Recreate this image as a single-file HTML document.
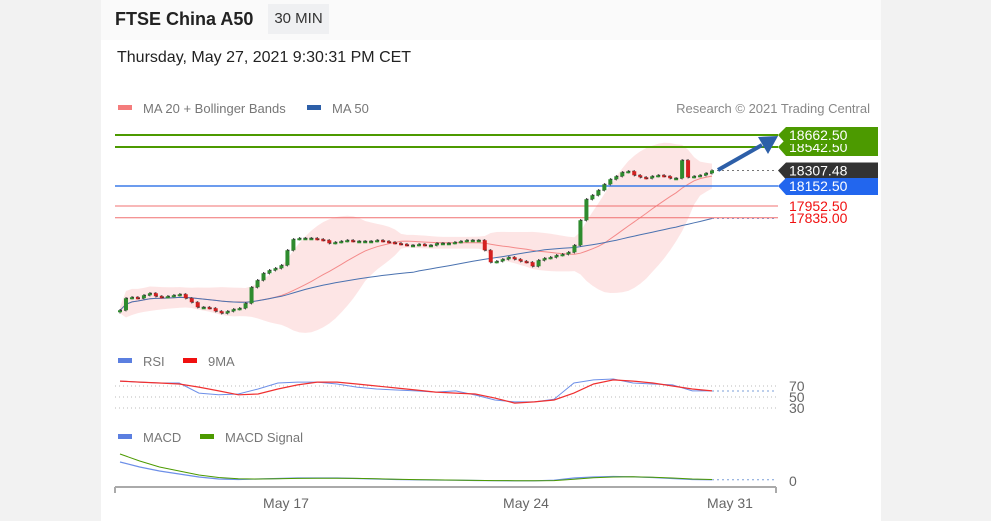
<!DOCTYPE html>
<html><head><meta charset="utf-8"><style>
body{margin:0;width:991px;height:521px;background:#f2f2f2;font-family:"Liberation Sans",sans-serif;overflow:hidden}
#card{position:absolute;left:101px;top:0;width:780px;height:521px;background:#fff}
#hdr{position:absolute;left:0;top:0;width:780px;height:40px;background:#fafafa}
</style></head><body>
<div id="card">
<div id="hdr"></div>
<div style="position:absolute;left:14px;top:9px;font-size:18px;font-weight:bold;color:#222">FTSE China A50</div>
<div style="position:absolute;left:167px;top:4px;width:61px;height:30px;background:#eff0f2;font-size:15px;color:#333;line-height:30px;text-align:center">30 MIN</div>
<div style="position:absolute;left:16px;top:49px;font-size:16px;color:#222">Thursday, May 27, 2021 9:30:31 PM CET</div>
</div>
<svg id="s" width="991" height="521" style="position:absolute;left:0;top:0" font-family="Liberation Sans, sans-serif"></svg>
<script>
const closes=[16910,17030,17040,17030,17060,17080,17050,17040,17050,17060,17070,17030,16990,16940,16940,16930,16900,16880,16900,16920,16930,16980,17140,17210,17280,17310,17330,17360,17510,17620,17630,17630,17630,17620,17610,17580,17590,17600,17610,17600,17600,17600,17600,17610,17600,17590,17580,17570,17560,17560,17570,17560,17560,17580,17580,17580,17590,17600,17610,17610,17610,17510,17390,17400,17420,17440,17420,17400,17390,17350,17410,17430,17440,17460,17470,17490,17560,17810,18020,18060,18110,18170,18220,18250,18290,18300,18260,18240,18230,18250,18260,18250,18230,18230,18410,18240,18250,18260,18280,18307.48];
const levels=[18662.5,18542.5,18152.5,17952.5,17835.0];
const lastPrice=18307.48;
const rsi=[79,77,75.5,75.5,57,54,55.5,64.5,75.5,77,77,73.6,68,64.5,62.7,61,59,61,53.6,44.5,41,41,46,75.5,81,82.7,75.5,73.6,72,61,61];
const rsiMA=[79,77,75.5,73.6,68,61,54,55.5,64.5,72,77,77,73.6,70,66.4,62.7,59,57,55.5,48,39,41,44.5,57,73.6,81,79,75.5,70,64.5,61];
const macd=[190,140,100,70,40,20,15,20,25,30,30,30,25,20,15,12,10,8,5,3,2,2,8,30,40,45,42,35,25,15,12];
const signal=[270,200,140,100,60,35,22,20,22,26,28,28,26,22,18,14,11,9,6,4,3,2,4,18,32,40,42,38,30,20,15];
const rsiTicks=[70,50,30];
const xLabels=["May 17","May 24","May 31"];
const xLabelPos=[286,526,730];

const S=document.getElementById('s'),NS='http://www.w3.org/2000/svg';
function el(t,a,p){const e=document.createElementNS(NS,t);for(const k in a)e.setAttribute(k,a[k]);(p||S).appendChild(e);return e;}
const X0=120,X1=712;
const xi=(i,n)=>X0+(X1-X0)*i/(n-1);
const py=p=>135+(18662.5-p)/10;
const ry=v=>386+(70-v)*0.55;
const my=v=>481-v/10;
function pts(arr,f){return arr.map((v,i)=>xi(i,arr.length).toFixed(1)+','+f(v).toFixed(1)).join(' ');}

const n=closes.length;const ma20=[],up=[],lo=[],ma50=[];
for(let i=0;i<n;i++){const a=closes.slice(Math.max(0,i-19),i+1);const m=a.reduce((s,v)=>s+v,0)/a.length;const sd=Math.sqrt(a.reduce((s,v)=>s+(v-m)*(v-m),0)/a.length);ma20.push(m);up.push(m+1.7*sd+30);lo.push(m-1.7*sd-30);
const b=closes.slice(Math.max(0,i-49),i+1);ma50.push(b.reduce((s,v)=>s+v,0)/b.length);}
let band=up.map((v,i)=>xi(i,n)+','+py(v)).join(' ')+' '+lo.map((v,i)=>[xi(i,n),py(v)]).reverse().map(p=>p[0]+','+p[1]).join(' ');
let e=el('polygon',{points:band,fill:'#fde0e0',opacity:0.85});


e=el('polyline',{points:pts(ma20,py),fill:'none',stroke:'#f48a8a','stroke-width':1});


e=el('polyline',{points:pts(ma50,py),fill:'none',stroke:'#4a72b0','stroke-width':1});


el('line',{x1:X1,x2:776,y1:py(ma50[n-1]),y2:py(ma50[n-1]),stroke:'#7b9fd8','stroke-dasharray':'2,3'});

const lvCol=['#4c9a00','#4c9a00','#3b7be8','#f07070','#f07070'];
const lvW=[2,2,1.5,1,1];
levels.forEach((v,i)=>{const l=el('line',{x1:115,x2:778,y1:py(v),y2:py(v),stroke:lvCol[i],'stroke-width':lvW[i]});

});
el('line',{x1:X1,x2:776,y1:py(lastPrice),y2:py(lastPrice),stroke:'#777','stroke-dasharray':'2,3'});

for(let i=0;i<n;i++){const c=closes[i],o=i?closes[i-1]:c-20;const x=xi(i,n);const hi=Math.max(o,c)+12,lw=Math.min(o,c)-12;
if(i>0)el('line',{x1:xi(i-1,n),x2:x,y1:py(o),y2:py(o),stroke:'#333','stroke-width':1,'stroke-dasharray':'2,2'});
el('line',{x1:x,x2:x,y1:py(hi),y2:py(lw),stroke:'#444','stroke-width':1});
const r=el('rect',{x:x-2,y:py(Math.max(o,c)),width:4,height:Math.max(2,Math.abs(o-c)/10),fill:c>=o?'#2e8b2e':'#d42020'});

}

el('line',{x1:718,y1:170,x2:762,y2:145,stroke:'#2d5fa8','stroke-width':4});
el('polygon',{points:'778,136 758,137 768,154',fill:'#2d5fa8'});

function tag(v,y,bg,fg,name){const g=el('g',{});
el('polygon',{points:`778,${y} 786,${y-8} 878,${y-8} 878,${y+9} 786,${y+9}`,fill:bg},g);
const t=el('text',{x:789,y:y+5,'font-size':14,fill:fg},g);t.textContent=v;}
tag('18542.50',py(levels[1]),'#4c9a00','#fff','tag-18542');
tag('18662.50',py(levels[0]),'#4c9a00','#fff','tag-18662');
tag('18307.48',py(lastPrice),'#333','#fff','tag-last-price');
tag('18152.50',py(levels[2]),'#2266ee','#fff','tag-18152');
[3,4].forEach(i=>{const t=el('text',{x:789,y:py(levels[i])+5,'font-size':14,fill:'#f01010'});t.textContent=levels[i].toFixed(2);

});

function leg(x,y,col,txt){el('rect',{x:x,y:y-3,width:14,height:5,fill:col});const t=el('text',{x:x+25,y:y+5,'font-size':13,fill:'#777'});t.textContent=txt;

}
leg(118,108,'#f47c7c','MA 20 + Bollinger Bands');leg(307,108,'#2d5fa8','MA 50');
leg(118,361,'#5b7fe0','RSI');leg(183,361,'#f01010','9MA');
leg(118,437,'#5b7fe0','MACD');leg(200,437,'#4c9a00','MACD Signal');
let t=el('text',{x:870,y:113,'font-size':13,fill:'#888','text-anchor':'end'});t.textContent='Research © 2021 Trading Central';

rsiTicks.forEach(v=>{el('line',{x1:115,x2:776,y1:ry(v),y2:ry(v),stroke:'#bbb','stroke-dasharray':'1,3'});
const tt=el('text',{x:789,y:ry(v)+5,'font-size':14,fill:'#666'});tt.textContent=v;});
e=el('polyline',{points:pts(rsi,ry),fill:'none',stroke:'#6d8fe8','stroke-width':1});


e=el('polyline',{points:pts(rsiMA,ry),fill:'none',stroke:'#f03030','stroke-width':1.2});


el('line',{x1:X1,x2:776,y1:ry(rsi[rsi.length-1]),y2:ry(rsi[rsi.length-1]),stroke:'#7b9fd8','stroke-dasharray':'2,3'});

e=el('polyline',{points:pts(macd,my),fill:'none',stroke:'#6d8fe8','stroke-width':1.2});


e=el('polyline',{points:pts(signal,my),fill:'none',stroke:'#4c9a00','stroke-width':1});


el('line',{x1:X1,x2:776,y1:my(macd[macd.length-1]),y2:my(macd[macd.length-1]),stroke:'#7b9fd8','stroke-dasharray':'2,3'});
t=el('text',{x:789,y:486,'font-size':14,fill:'#666'});t.textContent='0';

el('line',{x1:115,x2:776,y1:487,y2:487,stroke:'#aaa','stroke-width':2});
el('line',{x1:115,x2:115,y1:487,y2:493,stroke:'#aaa','stroke-width':2});
el('line',{x1:776,x2:776,y1:487,y2:493,stroke:'#aaa','stroke-width':2});
xLabels.forEach((l,i)=>{const tt=el('text',{x:xLabelPos[i],y:508,'font-size':14,fill:'#666','text-anchor':'middle'});tt.textContent=l;

});
</script>
</body></html>
